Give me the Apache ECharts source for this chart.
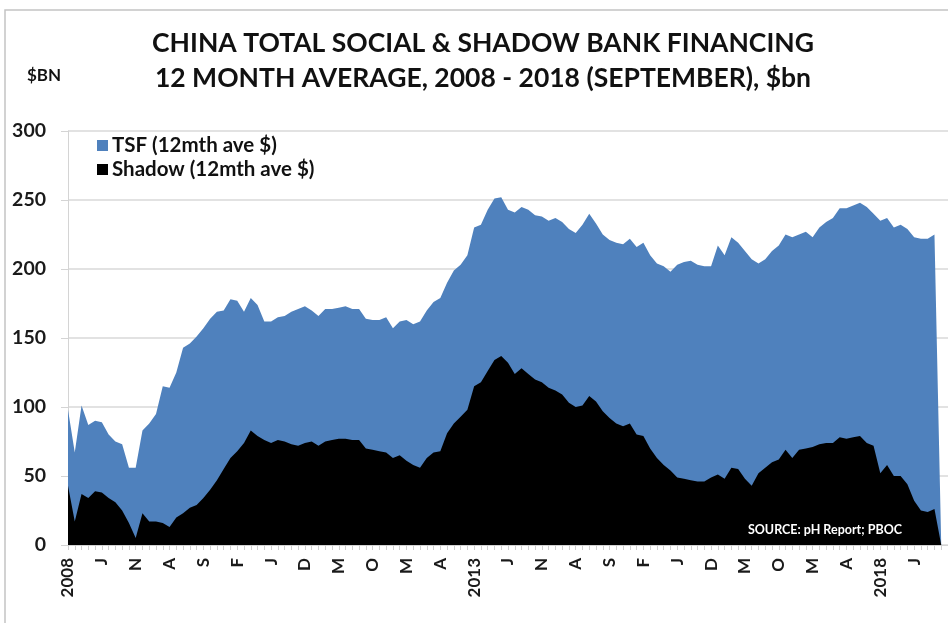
<!DOCTYPE html>
<html>
<head>
<meta charset="utf-8">
<script src="https://cdn.jsdelivr.net/npm/echarts@6/dist/echarts.min.js"></script>
<style>
html,body{margin:0;padding:0;background:#fff;}
#chart{width:948px;height:623px;}
</style>
</head>
<body>
<div id="chart"></div>
<script>
// Monthly categories: Jan 2008 .. Nov 2018 (last one is an empty slot at the right edge)
const startYear = 2008;
const monthInitials = ['J','F','M','A','M','J','J','A','S','O','N','D'];
const categories = [];
for (let i = 0; i < 131; i++) {
  const y = startYear + Math.floor(i / 12);
  const m = i % 12;
  categories.push(y + '-' + String(m + 1).padStart(2, '0'));
}

const yTicks = [0, 50, 100, 150, 200, 250, 300];

// TSF (12mth ave $), $bn  Jan 2008 .. Oct 2018
const tsf = [
  98, 67, 101, 87, 90, 89, 80, 75, 73, 56, 56, 83,
  88, 95, 115, 114, 125, 143, 146, 151, 157, 164, 169, 170,
  178, 177, 169, 179, 174, 162, 162, 165, 166, 169, 171, 173,
  170, 166, 171, 171, 172, 173, 171, 171, 164, 163, 163, 165,
  157, 162, 163, 160, 162, 170, 176, 179, 190, 199, 203, 210,
  230, 232, 243, 251, 252, 243, 241, 245, 243, 239, 238, 235,
  237, 234, 229, 226, 232, 240, 233, 225, 221, 219, 218, 222,
  216, 219, 210, 204, 202, 198, 203, 205, 206, 203, 202, 202,
  217, 210, 223, 219, 213, 207, 204, 207, 213, 217, 225, 223,
  225, 227, 223, 230, 234, 237, 244, 244, 246, 248, 245, 240,
  235, 237, 230, 232, 229, 223, 222, 222, 225, 0
];

// Shadow (12mth ave $), $bn  Jan 2008 .. Oct 2018
const shadow = [
  43, 17, 37, 34, 39, 38, 34, 31, 25, 16, 5, 23,
  17, 17, 16, 13, 20, 23, 27, 29, 34, 40, 47, 55,
  63, 68, 74, 83, 79, 76, 74, 76, 75, 73, 72, 74,
  75, 72, 75, 76, 77, 77, 76, 76, 70, 69, 68, 67,
  63, 65, 61, 58, 56, 63, 67, 68, 81, 88, 93, 98,
  115, 118, 126, 134, 137, 132, 124, 128, 124, 120, 118, 114,
  112, 109, 103, 100, 101, 108, 104, 97, 92, 88, 86, 88,
  80, 79, 70, 63, 58, 54, 49, 48, 47, 46, 46, 49,
  51, 48, 56, 55, 48, 43, 52, 56, 60, 62, 69, 63,
  69, 70, 71, 73, 74, 74, 78, 77, 78, 79, 74, 72,
  52, 58, 50, 50, 44, 32, 25, 24, 26, 0
];

const FONT = 'Lato, "Open Sans", sans-serif';
const chart = echarts.init(document.getElementById('chart'));

const option = {
  backgroundColor: '#ffffff',
  animation: false,
  grid: { left: 68, right: 0, top: 131, bottom: 78, containLabel: false },
  legend: {
    left: 92, top: 130, orient: 'vertical', itemGap: 3,
    icon: 'rect', itemWidth: 11, itemHeight: 11,
    textStyle: { fontFamily: FONT, fontSize: 20.5, fontWeight: 'bold', color: '#111', padding: [0,0,0,-1] },
    data: ['TSF (12mth ave $)', 'Shadow (12mth ave $)']
  },
  xAxis: {
    type: 'category',
    data: categories,
    boundaryGap: false,
    axisLine: { show: true, lineStyle: { color: '#d4d4d4', width: 1 } },
    axisTick: { show: true, interval: 0, length: 5, lineStyle: { color: '#cfcfcf' } },
    axisLabel: {
      interval: 4, rotate: 90, margin: 13, showMaxLabel: false,
      fontFamily: FONT, fontSize: 17, fontWeight: 'bold', color: '#1a1a1a',
      formatter: function (v) {
        const parts = v.split('-');
        const m = parseInt(parts[1], 10) - 1;
        return m === 0 ? parts[0] : monthInitials[m];
      }
    },
    splitLine: { show: false }
  },
  yAxis: {
    type: 'value', min: yTicks[0], max: yTicks[yTicks.length - 1], interval: 50,
    axisLine: { show: true, lineStyle: { color: '#d4d4d4', width: 1 } },
    axisTick: { show: true, length: 7, lineStyle: { color: '#d4d4d4' } },
    axisLabel: { margin: 22, fontFamily: FONT, fontSize: 19.5, fontWeight: 'bold', color: '#1a1a1a' },
    splitLine: { show: true, lineStyle: { color: '#d9d9d9', width: 1.5 } }
  },
  series: [
    {
      name: 'TSF (12mth ave $)', type: 'line', data: tsf,
      showSymbol: false, symbol: 'none',
      lineStyle: { width: 0 },
      itemStyle: { color: '#4F81BD' },
      areaStyle: { color: '#4F81BD', opacity: 1 }
    },
    {
      name: 'Shadow (12mth ave $)', type: 'line', data: shadow,
      showSymbol: false, symbol: 'none',
      lineStyle: { width: 0 },
      itemStyle: { color: '#000000' },
      areaStyle: { color: '#000000', opacity: 1 }
    }
  ],
  graphic: [
    { type: 'rect', shape: { x: 5, y: 10, width: 1000, height: 700 },
      style: { fill: 'none', stroke: '#c4c4c4', lineWidth: 1.5 }, silent: true, z: -10 },
    { type: 'text', x: 483, y: 43,
      style: { text: 'CHINA TOTAL SOCIAL & SHADOW BANK FINANCING', fontFamily: FONT, fontSize: 26.5, fontWeight: 'bold',
        fill: '#111', textAlign: 'center', textVerticalAlign: 'middle' } },
    { type: 'text', x: 483, y: 78,
      style: { text: '12 MONTH AVERAGE, 2008 - 2018 (SEPTEMBER), $bn', fontFamily: FONT, fontSize: 26.5, fontWeight: 'bold',
        fill: '#111', textAlign: 'center', textVerticalAlign: 'middle' } },
    { type: 'text', x: 27, y: 76,
      style: { text: '$BN', fontFamily: FONT, fontSize: 17, fontWeight: 'bold',
        fill: '#111', textAlign: 'left', textVerticalAlign: 'middle' } },
    { type: 'text', x: 902, y: 530, z: 100,
      style: { text: 'SOURCE: pH Report; PBOC', fontFamily: FONT, fontSize: 12.5, fontWeight: 'bold',
        fill: '#ffffff', textAlign: 'right', textVerticalAlign: 'middle' } }
  ]
};
chart.setOption(option);
</script>
</body>
</html>
